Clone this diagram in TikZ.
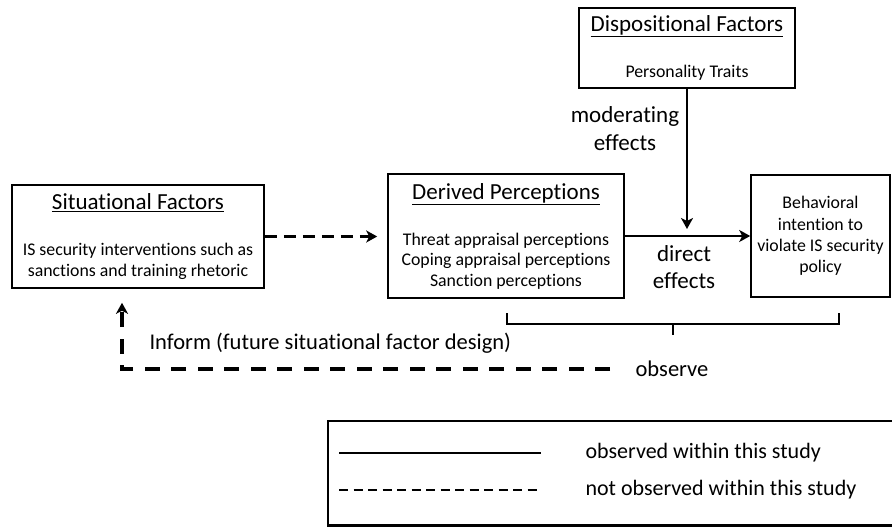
\documentclass[tikz,border=0pt]{standalone}
\usepackage{fontspec}
\setmainfont{Carlito}[Ligatures=NoCommon]
\usetikzlibrary{arrows.meta}
\newcommand{\boxtitle}[1]{{\fontsize{23}{20}\selectfont\underline{#1}}}
\begin{document}
\begin{tikzpicture}[x=1pt,y=-1pt,
  box/.style={draw,line width=1.6pt,align=center,inner sep=0pt,font=\fontsize{17.8}{20.5}\selectfont},
  lbl/.style={align=center,font=\fontsize{23}{27.5}\selectfont},
  tip/.style={-{Stealth[length=11pt,width=12pt,inset=3pt]}},
  solidarr/.style={tip,line width=2.6pt},
  dasharr/.style={tip,line width=2.8pt,dash pattern=on 12pt off 7pt}]
\useasboundingbox (0,0) rectangle (892,527);
% boxes
\node[box,minimum width=252,minimum height=103](sit)at(138,236.5){\boxtitle{Situational Factors}\\[25.5pt]IS security interventions such as\\sanctions and training rhetoric};
\node[box,minimum width=236,minimum height=124](der)at(506,236){\boxtitle{Derived Perceptions}\\[25.5pt]Threat appraisal perceptions\\Coping appraisal perceptions\\Sanction perceptions};
\node[box,minimum width=216,minimum height=80](disp)at(687,48){\boxtitle{Dispositional Factors}\\[25.5pt]Personality Traits};
\node[box,minimum width=139,minimum height=122,font=\fontsize{17.8}{21.3}\selectfont](beh)at(820.5,236){Behavioral\\intention to\\violate IS security\\policy};
% arrows
\coordinate(modtip)at(687,229);
\draw[solidarr](disp.south)--(modtip);
\draw[solidarr](der.east)--(beh.west);
\draw[dasharr,shorten >=10pt](sit.east)--(sit.east-|der.west);
\node[lbl](mod)at(625,128.5){moderating\\effects};
\node[lbl](dir)at(684,267){direct\\effects};
% observe bracket
\coordinate(brl)at(507,313);\coordinate(brr)at(839,313);\coordinate(brm)at(673,324);
\draw[line width=2.4pt](brl)--(brl|-brm)--(brr|-brm)--(brr);
\draw[line width=2.6pt](brm)--++(0,11);
\node[lbl,font=\fontsize{22.5}{20}\selectfont](obs)at(672,369){observe};
% feedback
\coordinate(infend)at(610,369);\coordinate(infcorner)at(122,369);
\draw[tip,line width=3.2pt,dash pattern=on 15pt off 11.5pt,shorten >=14pt](infend)--(infcorner)--(infcorner|-sit.south);
\node[lbl,anchor=west,font=\fontsize{22.5}{20}\selectfont](inf)at(146,343){Inform (future situational factor design)};
% legend
\draw[line width=2.2pt](328,421)rectangle(900,525.5);
\coordinate(l1a)at(339,453);\coordinate(l1b)at(541,453);
\coordinate(l2a)at(339,490);\coordinate(l2b)at(541,490);
\draw[line width=2.6pt](l1a)--(l1b);
\draw[line width=2.6pt,dash pattern=on 9pt off 5.5pt](l2a)--(l2b);
\node[anchor=west,font=\fontsize{22}{20}\selectfont](leg1)at(582,453){observed within this study};
\node[anchor=west,font=\fontsize{22}{20}\selectfont](leg2)at(582,490){not observed within this study};
\end{tikzpicture}
\end{document}
